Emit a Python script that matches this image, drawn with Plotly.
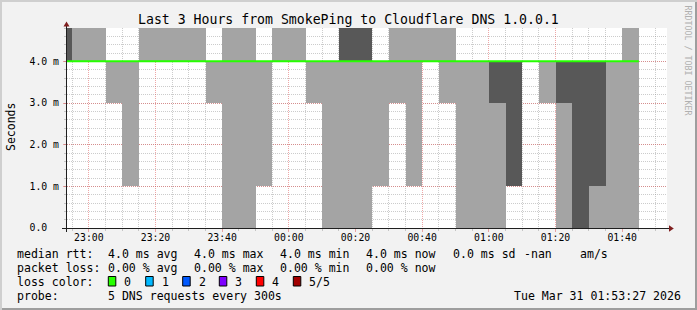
import plotly.graph_objects as go

# ---------------- data ----------------
# start time of each 5-minute step (rrd step = 300 s)
step_start = [
    "2026-03-30 22:50:00", "2026-03-30 22:55:00", "2026-03-30 23:00:00", "2026-03-30 23:05:00",
    "2026-03-30 23:10:00", "2026-03-30 23:15:00", "2026-03-30 23:20:00", "2026-03-30 23:25:00",
    "2026-03-30 23:30:00", "2026-03-30 23:35:00", "2026-03-30 23:40:00", "2026-03-30 23:45:00",
    "2026-03-30 23:50:00", "2026-03-30 23:55:00", "2026-03-31 00:00:00", "2026-03-31 00:05:00",
    "2026-03-31 00:10:00", "2026-03-31 00:15:00", "2026-03-31 00:20:00", "2026-03-31 00:25:00",
    "2026-03-31 00:30:00", "2026-03-31 00:35:00", "2026-03-31 00:40:00", "2026-03-31 00:45:00",
    "2026-03-31 00:50:00", "2026-03-31 00:55:00", "2026-03-31 01:00:00", "2026-03-31 01:05:00",
    "2026-03-31 01:10:00", "2026-03-31 01:15:00", "2026-03-31 01:20:00", "2026-03-31 01:25:00",
    "2026-03-31 01:30:00", "2026-03-31 01:35:00", "2026-03-31 01:40:00",
]
last_end = "2026-03-31 01:45:00"

# sorted DNS response times (ms) of the 5 requests per step
ping1 = [4, 4, 4, 3, 1, 4, 4, 4, 4, 3, 0, 0, 1, 4, 4, 3, 0, 0, 0, 1, 3, 1, 4, 3, 0, 0, 0, 1, 4, 3, 0, 0, 0, 0, 0]
ping2 = [4, 4, 4, 4, 4, 4, 4, 4, 4, 4, 4, 4, 4, 4, 4, 4, 4, 4, 4, 4, 4, 4, 4, 4, 4, 4, 3, 1, 4, 4, 3, 0, 1, 4, 4]
ping3 = [4, 4, 4, 4, 4, 4, 4, 4, 4, 4, 4, 4, 4, 4, 4, 4, 4, 4, 4, 4, 4, 4, 4, 4, 4, 4, 4, 4, 4, 4, 4, 4, 4, 4, 4]
ping4 = [5, 4, 4, 4, 4, 4, 4, 4, 4, 4, 4, 4, 4, 4, 4, 4, 4, 5, 5, 4, 4, 4, 4, 4, 4, 4, 4, 4, 4, 4, 4, 4, 4, 4, 4]
ping5 = [5, 5, 5, 4, 4, 5, 5, 5, 5, 4, 5, 5, 4, 5, 5, 4, 4, 5, 5, 4, 5, 5, 5, 5, 4, 4, 4, 4, 4, 4, 4, 4, 4, 4, 5]

y_tick_vals = [0, 1, 2, 3, 4]
y_tick_text = ["0.0\u00a0\u00a0", "1.0 m", "2.0 m", "3.0 m", "4.0 m"]

title_text = "Last 3 Hours from SmokePing to Cloudflare DNS 1.0.0.1"
legend_rows = [
    [(16, "median rtt:"), (107.3, "4.0 ms avg"), (193.3, "4.0 ms max"), (279.3, "4.0 ms min"),
     (365, "4.0 ms now"), (451.7, "0.0 ms sd"), (522.7, "-nan"), (579.3, "am/s")],
    [(16, "packet loss:"), (107.3, "0.00 % avg"), (193.3, "0.00 % max"), (279.3, "0.00 % min"),
     (365, "0.00 % now")],
    [(16, "loss color:")],
    [(16, "probe:"), (107.3, "5 DNS requests every 300s"), (513.3, "Tue Mar 31 01:53:27 2026")],
]
loss_labels = ["0", "1", "2", "3", "4", "5/5"]
loss_colors = ["#26ff00", "#00b8ff", "#0059ff", "#7e00ff", "#ff0000", "#a10000"]

# ---------------- geometry helpers (pixel -> paper) ----------------
W, H = 697, 310
L, R, T, B = 67, 30, 28, 82
PW, PH = W - L - R, H - T - B


def px(x):
    return (x - L) / PW


def py(y):
    return (H - B - y) / PH


MONO = "DejaVu Sans Mono"
LIGHT = "#a4a4a4"
DARK = "#585858"

fig = go.Figure()

# outer smoke: lowest to highest ping
fig.add_trace(go.Bar(
    x=step_start, y=[b - a for a, b in zip(ping1, ping5)], base=ping1,
    width=300000, offset=0, marker=dict(color=LIGHT, line=dict(width=0)),
    hoverinfo="skip"))
# inner smoke: 2nd to 4th ping
fig.add_trace(go.Bar(
    x=step_start, y=[b - a for a, b in zip(ping2, ping4)], base=ping2,
    width=300000, offset=0, marker=dict(color=DARK, line=dict(width=0)),
    hoverinfo="skip"))
# median rtt, coloured by loss (0 loss -> green)
fig.add_trace(go.Scatter(
    x=step_start + [last_end], y=ping3 + [ping3[-1]], mode="lines",
    line=dict(color=loss_colors[0], width=2, shape="hv"), hoverinfo="skip"))

GRID = "rgba(143,143,143,0.45)"
MGRID = "rgba(222,79,79,0.5)"

fig.update_layout(
    width=W, height=H, margin=dict(l=L, r=R, t=T, b=B, pad=0),
    paper_bgcolor="#f2f2f2", plot_bgcolor="#ffffff",
    barmode="overlay", bargap=0, showlegend=False,
    font=dict(family=MONO, size=10, color="#000000"),
    xaxis=dict(
        type="date", range=["2026-03-30 22:53:27", "2026-03-31 01:53:27"],
        dtick=1200000, tickformat="%H:%M", tickfont=dict(family=MONO, size=9.8),
        showgrid=True, gridcolor=MGRID, griddash="1px,1px", gridwidth=1,
        ticks="outside", ticklen=3, tickcolor=MGRID, tickwidth=1, ticklabelstandoff=-3,
        minor=dict(dtick=300000, showgrid=True, gridcolor=GRID, griddash="1px,1px",
                   gridwidth=1, ticks="outside", ticklen=2, tickcolor=GRID),
        showline=False, zeroline=False, layer="above traces", fixedrange=True,
    ),
    yaxis=dict(
        range=[0, 4.8], tickvals=y_tick_vals, ticktext=y_tick_text,
        tickfont=dict(family=MONO, size=9.8),
        showgrid=True, gridcolor=MGRID, griddash="1px,1px", gridwidth=1,
        ticks="outside", ticklen=3, tickcolor=MGRID, tickwidth=1, ticklabelstandoff=2,
        minor=dict(dtick=0.2, tick0=0, showgrid=True, gridcolor=GRID, griddash="1px,1px",
                   gridwidth=1, ticks="outside", ticklen=2, tickcolor=GRID),
        showline=False, zeroline=False, layer="above traces", fixedrange=True,
    ),
)

shapes = []
AXIS = "#1f1f1f"
ARROW = "#7f1f1f"
# image frame (3D shading)
shapes.append(dict(type="rect", xref="paper", yref="paper", x0=px(0), x1=px(W), y0=py(0), y1=py(2),
                   fillcolor="#cfcfcf", line=dict(width=0), layer="below"))
shapes.append(dict(type="rect", xref="paper", yref="paper", x0=px(0), x1=px(2), y0=py(0), y1=py(H),
                   fillcolor="#cfcfcf", line=dict(width=0), layer="below"))
shapes.append(dict(type="rect", xref="paper", yref="paper", x0=px(W - 2), x1=px(W), y0=py(2), y1=py(H),
                   fillcolor="#9e9e9e", line=dict(width=0), layer="below"))
shapes.append(dict(type="rect", xref="paper", yref="paper", x0=px(2), x1=px(W), y0=py(H - 2), y1=py(H),
                   fillcolor="#9e9e9e", line=dict(width=0), layer="below"))
# axes
shapes.append(dict(type="line", xref="paper", yref="paper", x0=px(62), x1=px(669), y0=py(228.5), y1=py(228.5),
                   line=dict(color=AXIS, width=1)))
shapes.append(dict(type="line", xref="paper", yref="paper", x0=px(66.5), x1=px(66.5), y0=py(232), y1=py(25),
                   line=dict(color=AXIS, width=1)))
# arrows
shapes.append(dict(type="path", xref="paper", yref="paper",
                   path=f"M {px(669)} {py(225.3)} L {px(673.8)} {py(228.5)} L {px(669)} {py(231.7)} Z",
                   fillcolor=ARROW, line=dict(width=0)))
shapes.append(dict(type="path", xref="paper", yref="paper",
                   path=f"M {px(63.5)} {py(26.5)} L {px(66.5)} {py(21.5)} L {px(69.5)} {py(26.5)} Z",
                   fillcolor=ARROW, line=dict(width=0)))

annotations = []
# title
annotations.append(dict(text=title_text, x=px(348), y=py(19), xref="paper", yref="paper",
                        xanchor="center", yanchor="middle", showarrow=False,
                        font=dict(family=MONO, size=13.2, color="#000000")))
# y-axis label
annotations.append(dict(text="Seconds", x=px(10.5), y=py(127.5), xref="paper", yref="paper",
                        xanchor="center", yanchor="middle", showarrow=False, textangle=-90,
                        font=dict(family=MONO, size=11.5, color="#000000")))
# watermark
annotations.append(dict(text="RRDTOOL / TOBI OETIKER", x=px(687.5), y=py(60), xref="paper", yref="paper",
                        xanchor="center", yanchor="middle", showarrow=False, textangle=90,
                        font=dict(family=MONO, size=8.3, color="#b0b0b0")))

row_y = [254.3, 268.3, 281.7, 296]
for ry, row in zip(row_y, legend_rows):
    for x0, txt in row:
        annotations.append(dict(text=txt.replace(" ", "\u00a0"), x=px(x0 - 1), y=py(ry), xref="paper", yref="paper",
                                xanchor="left", yanchor="middle", showarrow=False,
                                font=dict(family=MONO, size=11.55, color="#000000")))

# loss colour swatches
sw_x = [108.3, 145.7, 182.7, 219.3, 256.3, 293.3]
for sx, lab, col in zip(sw_x, loss_labels, loss_colors):
    shapes.append(dict(type="rect", xref="paper", yref="paper", x0=px(sx), x1=px(sx + 7.5),
                       y0=py(286), y1=py(276.5), fillcolor=col, line=dict(color="#000000", width=1)))
    annotations.append(dict(text=lab, x=px(sx + 14), y=py(row_y[2]), xref="paper", yref="paper",
                            xanchor="left", yanchor="middle", showarrow=False,
                            font=dict(family=MONO, size=11.55, color="#000000")))

fig.update_layout(shapes=shapes, annotations=annotations)
fig.write_html("out.html", config={"displayModeBar": False})
